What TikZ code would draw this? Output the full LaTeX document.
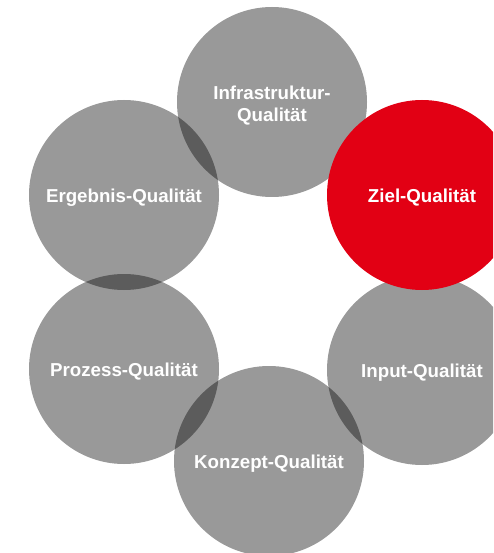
\documentclass[tikz,border=0pt]{standalone}
\usepackage{fontspec}
\setmainfont{Liberation Sans}
\definecolor{zielred}{RGB}{226,0,20}
\begin{document}
\begin{tikzpicture}[x=1pt,y=-1pt,
  gcirc/.style={circle,minimum size=190pt,inner sep=0pt,fill=black,fill opacity=0.4,draw=none},
  rcirc/.style={circle,minimum size=190pt,inner sep=0pt,fill=zielred,draw=none},
  lbl/.style={text=white,font=\fontsize{18.7}{22}\selectfont\bfseries,align=center,inner sep=0pt}]
\useasboundingbox (0,0) rectangle (493,553);
\clip (0,0) rectangle (493,553);
\node[gcirc] (infra) at (272,102) {};
\node[gcirc] (ergeb) at (124,195) {};
\node[gcirc] (proz) at (124,369) {};
\node[gcirc] (konz) at (269,461) {};
\node[gcirc] (input) at (422,370) {};
\node[rcirc] (ziel) at (422,195) {};
\node[lbl] (tinfra) at ([yshift=-4pt]infra.center) {Infrastruktur-\\Qualität};
\node[lbl] (tergeb) at ([yshift=-2.5pt]ergeb.center) {Ergebnis-Qualität};
\node[lbl] (tproz) at ([yshift=-2.5pt]proz.center) {Prozess-Qualität};
\node[lbl] (tkonz) at ([yshift=-2.5pt]konz.center) {Konzept-Qualität};
\node[lbl] (tinput) at ([yshift=-2.5pt]input.center) {Input-Qualität};
\node[lbl] (tziel) at ([yshift=-2.5pt]ziel.center) {Ziel-Qualität};
\end{tikzpicture}
\end{document}
